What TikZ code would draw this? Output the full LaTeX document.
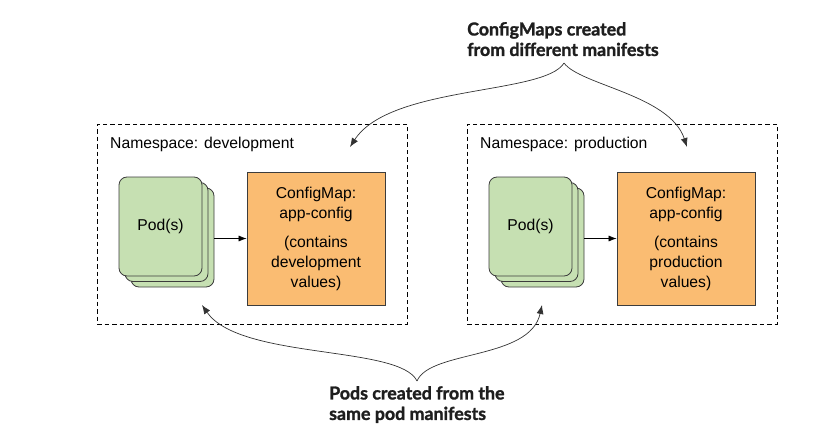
\documentclass[tikz,border=0pt]{standalone}
\usepackage{fontspec}
\setmainfont{Liberation Sans}
\newfontfamily\lblfont{Lato}[BoldFeatures={FakeBold=1.5}]
\usetikzlibrary{arrows.meta}
\definecolor{podgreen}{RGB}{198,224,178}
\definecolor{cmorange}{RGB}{250,188,114}
\definecolor{edgegray}{RGB}{60,60,60}
\definecolor{linegray}{RGB}{50,50,50}
\definecolor{lbltext}{RGB}{30,30,30}
\tikzset{
  nsbox/.style={draw=black, dashed, dash pattern=on 4.5pt off 3pt, line width=0.8pt, minimum width=310pt, minimum height=200pt, inner sep=0pt},
  nslabel/.style={anchor=base west, inner sep=0pt, font=\fontsize{15.7}{19}\selectfont},
  podcard/.style={draw=edgegray, fill=podgreen, rounded corners=8pt, line width=0.8pt, minimum width=83pt, minimum height=99pt, inner sep=0pt, font=\fontsize{15.7}{19}\selectfont},
  cmbox/.style={draw=edgegray, fill=cmorange, line width=0.8pt, minimum width=138pt, minimum height=133pt, inner sep=0pt, align=center, font=\fontsize{15.7}{20}\selectfont},
  flow/.style={draw=black, line width=0.7pt, -{Latex[length=8pt,width=6pt]}},
  callout/.style={draw=linegray, line width=0.7pt, -{Latex[length=9pt,width=7pt]}},
  biglabel/.style={anchor=north west, inner sep=0pt, align=left, text=lbltext, font=\lblfont\bfseries\fontsize{17.8}{20.5}\selectfont}
}
\begin{document}
\begin{tikzpicture}[x=1pt,y=-1pt]
\useasboundingbox (0,0) rectangle (829,441);
% development namespace
\node[nsbox] (nsdev) at (252,224) {};
\node[nslabel] (nsdevlbl) at (110,148) {Namespace: development};
\node[podcard] (devpod3) at (172.5,237.5) {};
\node[podcard] (devpod2) at (166.5,232) {};
\node[podcard] (devpod1) at (160.5,226.5) {Pod(s)};
\node[cmbox] (devcm) at (316,238.5) {ConfigMap:\\app-config\\[9pt](contains\\development\\values)};
\draw[flow] (devpod3.east |- devcm.west) -- (devcm.west);
% production namespace
\node[nsbox] (nsprod) at (622,224) {};
\node[nslabel] (nsprodlbl) at (480,148) {Namespace: production};
\node[podcard] (prodpod3) at (542.5,237.5) {};
\node[podcard] (prodpod2) at (536.5,232) {};
\node[podcard] (prodpod1) at (530.5,226.5) {Pod(s)};
\node[cmbox] (prodcm) at (686,238.5) {ConfigMap:\\app-config\\[9pt](contains\\production\\values)};
\draw[flow] (prodpod3.east |- prodcm.west) -- (prodcm.west);
% callouts
\node[biglabel] (toplbl) at (467,22) {ConfigMaps created\\from different manifests};
\node[biglabel] (botlbl) at (329,386) {Pods created from the\\same pod manifests};
\coordinate (topfork) at (564,63);
\coordinate (topL) at (350,147);
\coordinate (topR) at (687,147);
\coordinate (botfork) at (417,381);
\coordinate (botL) at (202,305);
\coordinate (botR) at (542,305);
\draw[callout] (topfork) .. controls (545,95) and (390,85) .. (topL);
\draw[callout] (topfork) .. controls (580,85) and (670,95) .. (topR);
\draw[callout] (botfork) .. controls (400,345) and (240,360) .. (botL);
\draw[callout] (botfork) .. controls (430,350) and (530,360) .. (botR);
\end{tikzpicture}
\end{document}
